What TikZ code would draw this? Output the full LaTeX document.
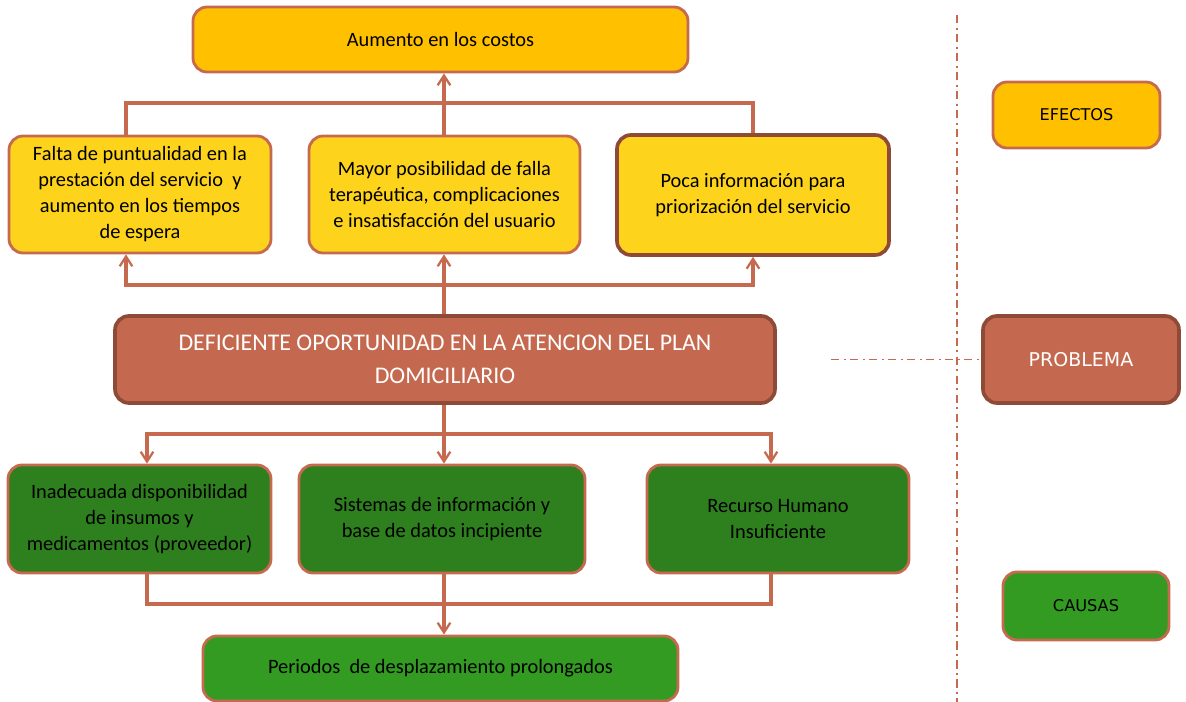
\documentclass[tikz,border=0pt]{standalone}
\usepackage{fontspec}
\setmainfont{Carlito}
\newfontfamily\keyfont{DejaVu Sans}
\usetikzlibrary{arrows.meta,positioning,calc}
\usepackage{xcolor}
\definecolor{Wire}{HTML}{C5694F}
\definecolor{WireDark}{HTML}{8E4A37}
\definecolor{Gold}{HTML}{FFC000}
\definecolor{Yolk}{HTML}{FDD31C}
\definecolor{Brick}{HTML}{C4694F}
\definecolor{Leaf}{HTML}{2E7F1E}
\definecolor{LeafLight}{HTML}{339B22}
\newlength{\px}
\setlength{\px}{0.025cm}

\begin{document}
\begin{tikzpicture}[x=0.025cm,y=-0.025cm,>={Straight Barb[length=7pt,width=9pt,line width=1.6pt]},
  box/.style={rectangle,rounded corners=14\px,draw=Wire,line width=2pt,align=center,inner sep=2pt,
    font=\fontsize{14.5}{18.5}\selectfont,text=black},
  effect/.style={box,fill=Yolk},
  cause/.style={box,fill=Leaf},
  key/.style={box,font=\keyfont\fontsize{11.5}{14}\selectfont},
  ln/.style={Wire,line width=2.2pt},
  guide/.style={Wire,line width=1.3pt,dash pattern=on 6pt off 3pt on 1.5pt off 3pt}]
\useasboundingbox (0,0) rectangle (1186,702);
% efectos
\node[box,fill=Gold,minimum width=495\px,minimum height=65\px] (costos) at (440.5,39.5) {Aumento en los costos};
\node[effect,minimum width=262\px,minimum height=117\px] (falta) at (140,194.5) {Falta de puntualidad en la\\prestación del servicio~ y\\aumento en los tiempos\\de espera};
\node[effect,minimum width=271\px,minimum height=117\px] (mayor) at (444.5,194.5) {Mayor posibilidad de falla\\terapéutica, complicaciones\\e insatisfacción del usuario};
\node[effect,draw=WireDark,line width=2.6pt,minimum width=272\px,minimum height=120\px] (poca) at (753,195) {Poca información para\\priorización del servicio};
% problema
\node[box,fill=Brick,draw=WireDark,line width=2.6pt,text=white,minimum width=660\px,minimum height=87\px,
  font=\fontsize{17}{23.5}\selectfont] (deficiente) at (445,359.5) {DEFICIENTE OPORTUNIDAD EN LA ATENCION DEL PLAN\\DOMICILIARIO};
% causas
\node[cause,minimum width=263\px,minimum height=108\px] (inad) at (139.5,519) {Inadecuada disponibilidad\\de insumos y\\medicamentos (proveedor)};
\node[cause,minimum width=286\px,minimum height=108\px] (sistemas) at (442,519) {Sistemas de información y\\base de datos incipiente};
\node[cause,minimum width=262\px,minimum height=108\px] (recurso) at (778,519) {Recurso Humano\\Insuficiente};
\node[box,fill=LeafLight,minimum width=475\px,minimum height=65\px] (periodos) at (440.5,668.5) {Periodos~ de desplazamiento prolongados};
% leyenda
\node[key,fill=Gold,minimum width=167\px,minimum height=66\px] (efectos) at (1076.5,115) {EFECTOS};
\node[key,fill=Brick,draw=WireDark,line width=2.6pt,text=white,minimum width=196\px,minimum height=87\px,
  font=\keyfont\fontsize{13.5}{16}\selectfont] (problema) at (1081,359.5) {PROBLEMA};
\node[key,fill=LeafLight,minimum width=166\px,minimum height=68\px] (causas) at (1086,606) {CAUSAS};
% rieles
\coordinate (fx) at (126,0);
\coordinate (ix) at (147,0);
\coordinate (mx) at (444,0);
\coordinate (rx) at (771,0);
\coordinate (topbar) at (0,103);
\coordinate (midbar) at (0,285);
\coordinate (cutbar) at (0,434);
\coordinate (lowbar) at (0,604);
\draw[ln] (fx |- falta.north) |- (topbar -| poca.north) -- (poca.north);
\draw[ln,->] (mx |- mayor.north) -- (mx |- costos.south);
\draw[ln,<->] (fx |- falta.south) |- (midbar -| poca.south) -- (poca.south);
\draw[ln,->] (mx |- deficiente.north) -- (mx |- mayor.south);
\draw[ln,<->] (ix |- inad.north) |- (cutbar -| rx) -- (rx |- recurso.north);
\draw[ln,->] (mx |- deficiente.south) -- (mx |- sistemas.north);
\draw[ln] (ix |- inad.south) |- (lowbar -| rx) -- (rx |- recurso.south);
\draw[ln,->] (mx |- sistemas.south) -- (mx |- periodos.north);
% separadores
\coordinate (vtop) at (957,15);
\coordinate (vbot) at (957,702);
\coordinate (hstart) at (831,359.5);
\draw[guide] (vtop) -- (vbot);
\draw[guide] (hstart) -- (problema.west);
\end{tikzpicture}
\end{document}
